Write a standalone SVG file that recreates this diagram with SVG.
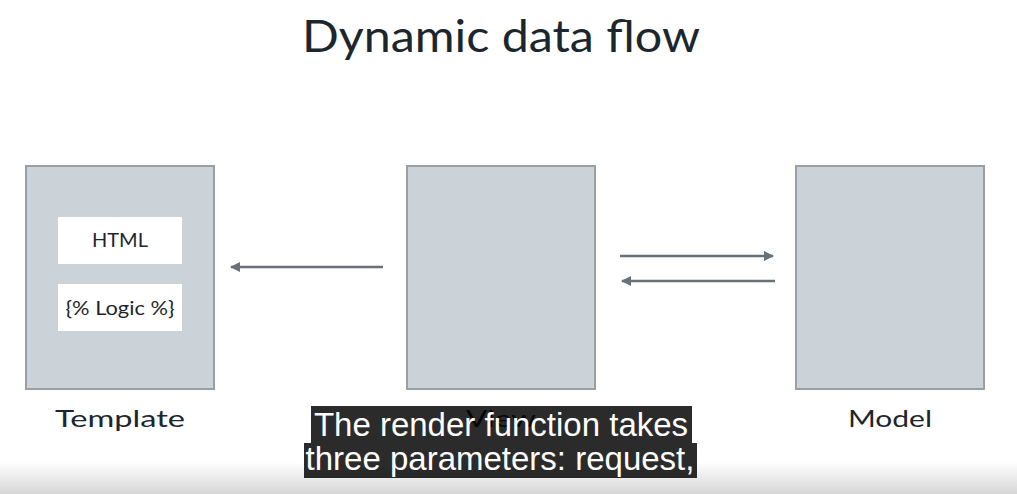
<svg xmlns="http://www.w3.org/2000/svg" width="1017" height="494" viewBox="0 0 1017 494">
<defs>
<linearGradient id="bg" x1="0" y1="0" x2="0" y2="1">
<stop offset="0" stop-color="#ffffff"/>
<stop offset="1" stop-color="#d6d6d6"/>
</linearGradient>
<marker id="ah" viewBox="0 0 10 10" refX="9" refY="5" markerWidth="4" markerHeight="4" orient="auto-start-reverse" markerUnits="strokeWidth">
<path d="M0,0 L10,5 L0,10 z" fill="#66717a"/>
</marker>
</defs>
<style>
.box{fill:#cbd3d8;stroke:#9a9fa3;stroke-width:2}
.inner{fill:#ffffff}
.lbl{font-family:Lato,"Noto Sans",sans-serif;fill:#1c262d;text-anchor:middle}
.con{stroke:#66717a;stroke-width:2.5;fill:none;marker-end:url(#ah)}
.cap{font-family:"Liberation Sans",Arial,sans-serif;font-size:33px;fill:#ffffff;text-anchor:middle}
.capbg{fill:#000000;fill-opacity:0.83}
</style>
<rect width="1017" height="494" fill="#ffffff"/>
<rect x="0" y="462" width="1017" height="32" fill="url(#bg)"/>
<text class="lbl" x="501" y="52" font-size="45" textLength="398" lengthAdjust="spacingAndGlyphs">Dynamic data flow</text>
<g id="template">
<rect class="box" x="26" y="166" width="188" height="223"/>
<text class="lbl" x="120" y="427" font-size="24" textLength="130" lengthAdjust="spacingAndGlyphs">Template</text>
</g>
<g id="html">
<rect class="inner" x="58" y="217" width="124" height="47"/>
<text class="lbl" x="120" y="247" font-size="19" textLength="56" lengthAdjust="spacingAndGlyphs">HTML</text>
</g>
<g id="logic">
<rect class="inner" x="58" y="284" width="124" height="47"/>
<text class="lbl" x="120" y="315" font-size="19" textLength="109" lengthAdjust="spacingAndGlyphs">{% Logic %}</text>
</g>
<g id="view">
<rect class="box" x="407" y="166" width="188" height="223"/>
<text class="lbl" x="501" y="427" font-size="24" textLength="70" lengthAdjust="spacingAndGlyphs">View</text>
</g>
<g id="model">
<rect class="box" x="796" y="166" width="188" height="223"/>
<text class="lbl" x="890" y="427" font-size="24" textLength="84" lengthAdjust="spacingAndGlyphs">Model</text>
</g>
<g id="connectors">
<line class="con" x1="383" y1="267" x2="231" y2="267"/>
<line class="con" x1="620" y1="256" x2="773" y2="256"/>
<line class="con" x1="775" y1="281" x2="622" y2="281"/>
</g>
<g id="caption">
<rect class="capbg" x="311" y="406" width="381" height="37"/>
<rect class="capbg" x="304" y="443" width="393" height="35"/>
<text class="cap" x="501" y="436">The render function takes</text>
<text class="cap" x="500" y="470">three parameters: request,</text>
</g>
</svg>
